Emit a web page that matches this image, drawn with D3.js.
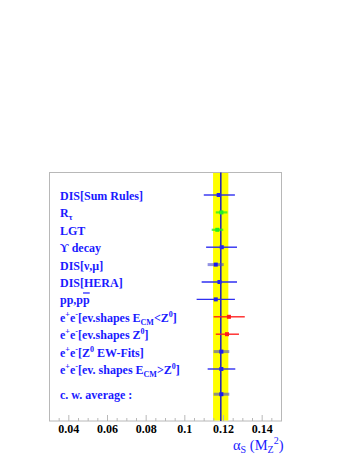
<!DOCTYPE html>
<html>
<head>
<meta charset="utf-8">
<script src="https://cdn.jsdelivr.net/npm/d3@7"></script>
<style>
  body { margin: 0; background: #fff; }
  svg { display: block; }
</style>
</head>
<body>
<div id="chart"></div>
<script>
// measurements of alpha_s(MZ^2), top to bottom
var rowLabels = [
  "DIS[Sum Rules]",
  "R_{\u03c4}",
  "LGT",
  "\u03d2 decay",
  "DIS[\u03bd,\u03bc]",
  "DIS[HERA]",
  "pp,p#bar{p}",
  "e^{+}e^{-}[ev.shapes E_{CM}<Z^{0}]",
  "e^{+}e^{-}[ev.shapes Z^{0}]",
  "e^{+}e^{-}[Z^{0} EW-Fits]",
  "e^{+}e^{-}[ev. shapes E_{CM}>Z^{0}]",
  "c. w. average :"
];
var rowPos   = [0, 1, 2, 3, 4, 5, 6, 7, 8, 9, 10, 11.45];
var rowValue = [0.1175, 0.1189, 0.1168, 0.1191, 0.1160, 0.1179, 0.1160, 0.1228, 0.1218, 0.1189, 0.1189, 0.1189];
var rowLow   = [0.1098, 0.1160, 0.1139, 0.1110, 0.1118, 0.1087, 0.1061, 0.1149, 0.1160, 0.1149, 0.1118, 0.1149];
var rowHigh  = [0.1259, 0.1220, 0.1199, 0.1270, 0.1201, 0.1270, 0.1259, 0.1310, 0.1280, 0.1230, 0.1261, 0.1230];
var rowKind  = ["blue", "green", "green", "blue", "wide", "blue", "blue", "red", "red", "wide", "blue", "wide"];

// world average band
var average = 0.1186;
var averageLow = 0.1146;
var averageHigh = 0.1225;

var tickLabels = [0.04, 0.06, 0.08, 0.1, 0.12, 0.14];

var kindColor = { blue: "#2424f0", green: "#22ee22", red: "#ff1a1a", wide: "#4a4ad0" };

var svg = d3.select("#chart").append("svg")
  .attr("width", 358)
  .attr("height", 463);

var x = d3.scaleLinear()
  .domain([0.03, 0.15])
  .range([49.5, 281.5]);

var y = d3.scaleLinear()
  .domain([0, 10])
  .range([195, 369]);

var frameTop = 172.5, frameBottom = 421;

// frame
svg.append("rect")
  .attr("x", x(0.03))
  .attr("y", frameTop)
  .attr("width", x(0.15) - x(0.03))
  .attr("height", frameBottom - frameTop)
  .attr("fill", "none")
  .attr("stroke", "#b8b8b8")
  .attr("stroke-width", 1);

// yellow band + average line
svg.append("rect")
  .attr("x", x(averageLow))
  .attr("y", frameTop + 0.5)
  .attr("width", x(averageHigh) - x(averageLow))
  .attr("height", frameBottom - frameTop - 1)
  .attr("fill", "#ffff00");

svg.append("line")
  .attr("x1", x(average)).attr("x2", x(average))
  .attr("y1", frameTop).attr("y2", frameBottom)
  .attr("stroke", "#2b2bb0")
  .attr("stroke-width", 1.6);

// axis ticks (pointing up into the frame)
var minor = d3.range(0.035, 0.1501, 0.005);
svg.selectAll(".tick")
  .data(minor)
  .enter()
  .append("line")
  .attr("x1", function(d) { return x(d); })
  .attr("x2", function(d) { return x(d); })
  .attr("y1", frameBottom)
  .attr("y2", function(d) {
    var major = tickLabels.some(function(t) { return Math.abs(t - d) < 1e-6; });
    return major ? frameBottom - 6 : frameBottom - 3;
  })
  .attr("stroke", "#b8b8b8")
  .attr("stroke-width", 1);

svg.selectAll(".ticklabel")
  .data(tickLabels)
  .enter()
  .append("text")
  .attr("x", function(d) { return x(d); })
  .attr("y", 433)
  .attr("text-anchor", "middle")
  .attr("font-family", "Liberation Serif, Times New Roman, serif")
  .attr("font-weight", "bold")
  .attr("font-size", 12)
  .attr("fill", "#000")
  .text(function(d) { return d3.format("")(d); });

// error bars and points
var rows = svg.selectAll(".row")
  .data(rowValue)
  .enter()
  .append("g");

rows.append("line")
  .attr("x1", function(d, i) { return x(rowLow[i]); })
  .attr("x2", function(d, i) { return x(rowHigh[i]); })
  .attr("y1", function(d, i) { return y(rowPos[i]); })
  .attr("y2", function(d, i) { return y(rowPos[i]); })
  .attr("stroke", function(d, i) { return kindColor[rowKind[i]]; })
  .attr("stroke-width", function(d, i) { return rowKind[i] == "wide" ? 3 : (rowKind[i] == "green" ? 2.2 : 1.4); })
  .attr("stroke-opacity", function(d, i) { return rowKind[i] == "wide" ? 0.6 : (rowKind[i] == "green" ? 0.75 : 0.95); });

rows.append("rect")
  .attr("x", function(d) { return x(d) - 2; })
  .attr("y", function(d, i) { return y(rowPos[i]) - 2; })
  .attr("width", 4)
  .attr("height", 4)
  .attr("fill", function(d, i) { return rowKind[i] == "wide" ? "#1a1af0" : kindColor[rowKind[i]]; });

// row labels with simple ^{}, _{} and #bar{} markup
function addLabel(sel, str) {
  var re = /(\^\{[^}]*\}|_\{[^}]*\}|#bar\{[^}]*\})/g;
  var parts = str.split(re).filter(function(p) { return p.length > 0; });
  var shift = 0;
  parts.forEach(function(p) {
    if (p[0] == "^") {
      sel.append("tspan").attr("font-size", 8).attr("dy", -5 - shift).text(p.slice(2, -1));
      shift = -5;
    } else if (p[0] == "_") {
      sel.append("tspan").attr("font-size", 8).attr("dy", 3 - shift).text(p.slice(2, -1));
      shift = 3;
    } else if (p[0] == "#") {
      sel.append("tspan").attr("dy", -shift)
        .attr("text-decoration", "overline")
        .style("text-decoration", "overline")
        .text(p.slice(5, -1));
      shift = 0;
    } else {
      sel.append("tspan").attr("dy", -shift).text(p);
      shift = 0;
    }
  });
}

rowLabels.forEach(function(label, i) {
  var t = svg.append("text")
    .attr("x", 60)
    .attr("y", y(rowPos[i]) + 5)
    .attr("font-family", "Liberation Serif, Times New Roman, serif")
    .attr("font-weight", "bold")
    .attr("font-size", 12)
    .attr("fill", "#1a1aff");
  addLabel(t, label);
});

// axis title
var title = svg.append("text")
  .attr("x", 233)
  .attr("y", 450)
  .attr("font-family", "Liberation Serif, Times New Roman, serif")
  .attr("font-size", 14.5)
  .attr("fill", "#1a1aff");
title.append("tspan").text("\u03b1");
title.append("tspan").attr("font-size", 10).attr("dy", 3).text("S");
title.append("tspan").attr("dy", -3).text(" (M");
title.append("tspan").attr("font-size", 10).attr("dy", 3).text("Z");
title.append("tspan").attr("font-size", 10).attr("dy", -9).text("2");
title.append("tspan").attr("dy", 6).text(")");
</script>
</body>
</html>
